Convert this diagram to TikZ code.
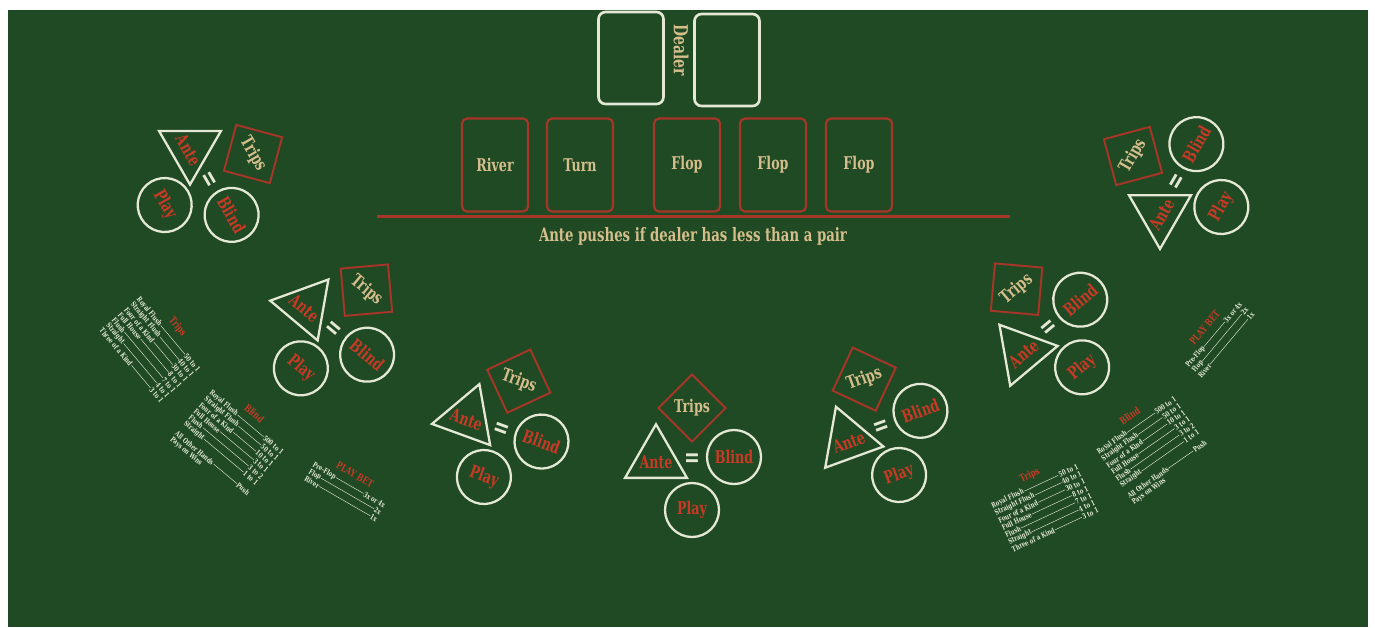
\documentclass[tikz,border=0pt]{standalone}
\usepackage{fontspec}
\newfontfamily\slab{DejaVu Serif}[FakeStretch=0.72]
\usetikzlibrary{shapes.geometric}
\definecolor{feltgreen}{RGB}{31,74,36}
\definecolor{feltred}{RGB}{168,54,40}
\definecolor{feltlabel}{RGB}{200,58,38}
\definecolor{felttan}{RGB}{214,190,140}
\definecolor{feltcream}{RGB}{228,232,212}

\begin{document}
\begin{tikzpicture}[x=0.02cm, y=-0.02cm,
    card/.style={rectangle, rounded corners=0.1cm, draw=feltred, line width=1.2pt,
                 minimum width=1.32cm, minimum height=1.86cm, inner sep=0pt,
                 text=felttan, font=\slab\bfseries\fontsize{10}{11}\selectfont},
    dealercard/.style={card, draw=feltcream, line width=1.5pt, rounded corners=0.14cm,
                 minimum width=1.3cm, minimum height=1.84cm},
    rail/.style={draw=feltred, line width=1.7pt},
    notetext/.style={text=felttan, font=\slab\bfseries\fontsize{10.5}{12}\selectfont},
    betcircle/.style={circle, draw=feltcream, line width=1.3pt, minimum size=1.08cm,
                 inner sep=0pt, text=feltlabel, font=\slab\bfseries\fontsize{10}{11}\selectfont},
    antetri/.style={regular polygon, regular polygon sides=3, draw=feltcream,
                 line width=1.3pt, minimum size=1.43cm, inner sep=0pt},
    tripsbox/.style={diamond, aspect=1, draw=feltred, line width=1.1pt,
                 minimum size=1.36cm, inner sep=0pt, text=felttan,
                 font=\slab\bfseries\fontsize{10}{11}\selectfont},
    betlabel/.style={text=feltlabel, inner sep=0pt, font=\slab\bfseries\fontsize{10}{11}\selectfont},
    eqsign/.style={text=feltcream, inner sep=0pt, font=\slab\bfseries\fontsize{15}{15}\selectfont},
    rowtxt/.style={text=feltcream, inner sep=0.2pt, font=\slab\bfseries\fontsize{4.2}{4.5}\selectfont},
    leader/.style={draw=feltcream, line width=0.25pt},
    paytitle/.style={text=feltlabel, font=\slab\bfseries\fontsize{5.8}{6}\selectfont}
  ]
    \fill[white] (0,0) rectangle (1375,627);
    \fill[feltgreen] (8,10) rectangle (1368,627);
    \useasboundingbox (0,0) rectangle (1375,627);

    % dealer cards
    \node[dealercard] (dealerL) at (631,58) {};
    \node[dealercard] (dealerR) at (727,60) {};
    \node[notetext, rotate=-90, font=\slab\bfseries\fontsize{11}{12}\selectfont] (dealer) at (681,50) {Dealer};

    % board cards
    \node[card] (river) at (495,165) {River};
    \node[card] (turn)  at (580,165) {Turn};
    \node[card] (flopA) at (687,165) {Flop};
    \node[card] (flopB) at (773,165) {Flop};
    \node[card] (flopC) at (859,165) {Flop};
    \coordinate (railL) at (377,216);
    \coordinate (railR) at (1010,216);
    \draw[rail] (railL) -- (railR);
    \node[notetext] (push) at (693,236) {Ante pushes if dealer has less than a pair};

    % player spots
    \foreach \n/\ex/\ey/\rot in {1/208/180/-60, 2/333/330/-40, 3/501/430/-20, 4/692/460/0,
                                5/882/428/20, 6/1050/329/40, 7/1178/182/60}{
      \begin{scope}[shift={(\ex,\ey)}, rotate=\rot, transform shape]
        \node[eqsign] (eq\n) at (0,0) {=};
        \node[antetri] (ante\n) at (-36,0) {};
        \node[betlabel] (antetxt\n) at (-36,2) {Ante};
        \node[tripsbox] (trips\n) at (0,-52) {Trips};
        \node[betcircle] (blind\n) at (42,-3) {Blind};
        \node[betcircle] (play\n) at (0,50) {Play};
      \end{scope}
    }

    % pay tables, left
    \begin{scope}[shift={(150,350)}, rotate=-50, transform shape]
      \node[paytitle] (t1title) at (0,-36) {Trips};
      \foreach \hand/\pay [count=\i] in {Royal Flush/50 to 1, Straight Flush/40 to 1,
          Four of a Kind/30 to 1, Full House/8 to 1, Flush/7 to 1, Straight/4 to 1,
          Three of a Kind/3 to 1}{
        \node[rowtxt, anchor=west] (t1h\i) at (-48,-32+8*\i) {\hand};
        \node[rowtxt, anchor=east] (t1p\i) at (48,-32+8*\i) {\pay};
        \draw[leader] (t1h\i) -- (t1p\i);
      }
    \end{scope}
    \begin{scope}[shift={(226,447)}, rotate=-40, transform shape]
      \node[paytitle] (t2title) at (0,-44) {Blind};
      \foreach \hand/\pay [count=\i] in {Royal Flush/500 to 1, Straight Flush/50 to 1,
          Four of a Kind/10 to 1, Full House/3 to 1, Flush/3 to 2, Straight/1 to 1}{
        \node[rowtxt, anchor=west] (t2h\i) at (-48,-40+8*\i) {\hand};
        \node[rowtxt, anchor=east] (t2p\i) at (48,-40+8*\i) {\pay};
        \draw[leader] (t2h\i) -- (t2p\i);
      }
      \node[rowtxt, anchor=west] (t2o1) at (-48,21) {All Other Hands};
      \node[rowtxt, anchor=east] (t2q1) at (48,21) {Push};
      \draw[leader] (t2o1) -- (t2q1);
      \node[rowtxt, anchor=west] (t2o2) at (-48,29) {Pays on Wins};
    \end{scope}
    \begin{scope}[shift={(345,492)}, rotate=-30, transform shape]
      \node[paytitle] (t3title) at (0,-20) {PLAY BET};
      \foreach \hand/\pay [count=\i] in {Pre-Flop/3x or 4x, Flop/2x, River/1x}{
        \node[rowtxt, anchor=west] (t3h\i) at (-42,-16+8*\i) {\hand};
        \node[rowtxt, anchor=east] (t3p\i) at (42,-16+8*\i) {\pay};
        \draw[leader] (t3h\i) -- (t3p\i);
      }
    \end{scope}

    % pay tables, right
    \begin{scope}[shift={(1220,340)}, rotate=50, transform shape]
      \node[paytitle] (t4title) at (0,-20) {PLAY BET};
      \foreach \hand/\pay [count=\i] in {Pre-Flop/3x or 4x, Flop/2x, River/1x}{
        \node[rowtxt, anchor=west] (t4h\i) at (-42,-16+8*\i) {\hand};
        \node[rowtxt, anchor=east] (t4p\i) at (42,-16+8*\i) {\pay};
        \draw[leader] (t4h\i) -- (t4p\i);
      }
    \end{scope}
    \begin{scope}[shift={(1155,452)}, rotate=35, transform shape]
      \node[paytitle] (t5title) at (0,-44) {Blind};
      \foreach \hand/\pay [count=\i] in {Royal Flush/500 to 1, Straight Flush/50 to 1,
          Four of a Kind/10 to 1, Full House/3 to 1, Flush/3 to 2, Straight/1 to 1}{
        \node[rowtxt, anchor=west] (t5h\i) at (-48,-40+8*\i) {\hand};
        \node[rowtxt, anchor=east] (t5p\i) at (48,-40+8*\i) {\pay};
        \draw[leader] (t5h\i) -- (t5p\i);
      }
      \node[rowtxt, anchor=west] (t5o1) at (-48,21) {All Other Hands};
      \node[rowtxt, anchor=east] (t5q1) at (48,21) {Push};
      \draw[leader] (t5o1) -- (t5q1);
      \node[rowtxt, anchor=west] (t5o2) at (-48,29) {Pays on Wins};
    \end{scope}
    \begin{scope}[shift={(1045,508)}, rotate=25, transform shape]
      \node[paytitle] (t6title) at (0,-36) {Trips};
      \foreach \hand/\pay [count=\i] in {Royal Flush/50 to 1, Straight Flush/40 to 1,
          Four of a Kind/30 to 1, Full House/8 to 1, Flush/7 to 1, Straight/4 to 1,
          Three of a Kind/3 to 1}{
        \node[rowtxt, anchor=west] (t6h\i) at (-48,-32+8*\i) {\hand};
        \node[rowtxt, anchor=east] (t6p\i) at (48,-32+8*\i) {\pay};
        \draw[leader] (t6h\i) -- (t6p\i);
      }
    \end{scope}
  \end{tikzpicture}
\end{document}
